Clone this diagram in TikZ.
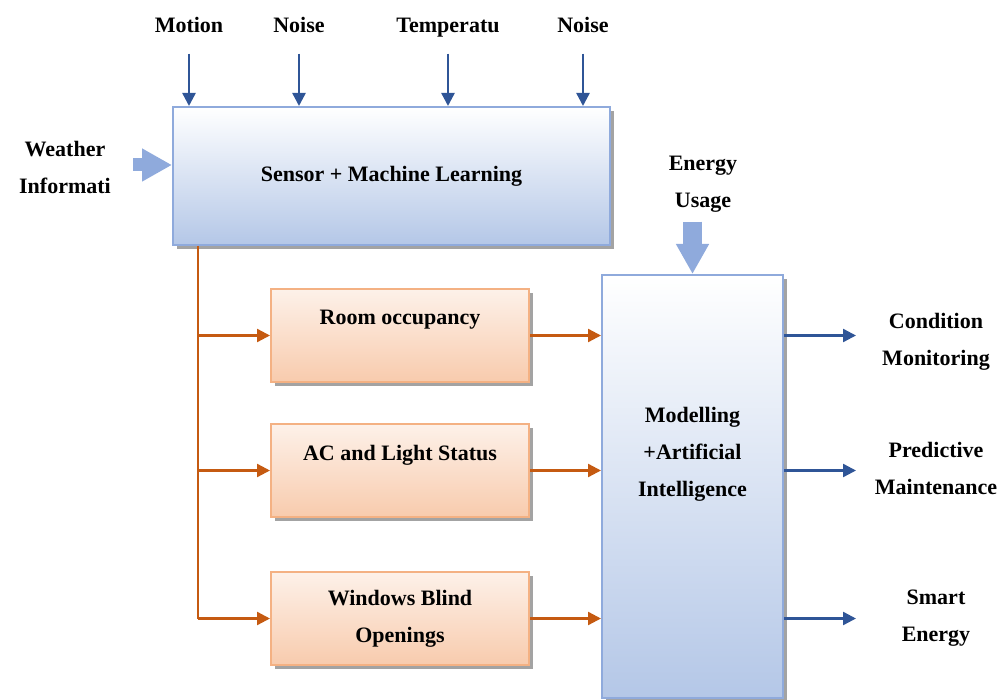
\documentclass[tikz,border=0pt]{standalone}
\usepackage{fontspec}
\setmainfont{Liberation Serif}
\usepackage{xcolor}
\usepackage{tikz}
\usetikzlibrary{arrows.meta, shadows}

\definecolor{boxblue}{HTML}{B4C7E7}
\definecolor{edgeblue}{HTML}{8FAADC}
\definecolor{darkblue}{HTML}{2F5597}
\definecolor{boxorange}{HTML}{F8CBAD}
\definecolor{paleorange}{HTML}{FDF1E9}
\definecolor{edgeorange}{HTML}{F4B183}
\definecolor{rust}{HTML}{C55A11}

\begin{document}
\begin{tikzpicture}[
    x=1pt, y=-1pt,
    font=\fontsize{22}{37}\selectfont\bfseries,
    bluebox/.style={
        draw=edgeblue,
        line width=2pt,
        top color=white,
        bottom color=boxblue,
        align=center,
        drop shadow={shadow xshift=4pt, shadow yshift=-4pt, fill=black!45, opacity=0.8}
    },
    orangebox/.style={
        draw=edgeorange,
        line width=2pt,
        top color=paleorange,
        bottom color=boxorange,
        align=center,
        minimum width=258pt,
        minimum height=93pt,
        drop shadow={shadow xshift=4pt, shadow yshift=-4pt, fill=black!45, opacity=0.8}
    },
    lbl/.style={align=center},
    toplbl/.style={text height=15pt, text depth=5pt},
    feed/.style={draw=darkblue, line width=2.4pt, -{Triangle[length=13pt,width=13pt]}},
    branch/.style={draw=rust, line width=2.3pt, -{Triangle[length=13pt,width=13pt]}},
    fat/.style={draw=edgeblue, -{Triangle[length=30pt,width=31pt]}}
]
\useasboundingbox (0,0) rectangle (1008,700);

% ==================== Boxes ====================
\node[bluebox, minimum width=437pt, minimum height=138pt] (sensor) at (391.5,176)
{Sensor + Machine Learning};

\node[orangebox, text depth=36pt] (occupancy) at (400,335.5) {Room occupancy};
\node[orangebox, text depth=36pt] (status)    at (400,470.5) {AC and Light Status};
\node[orangebox]                  (blinds)    at (400,618.5) {Windows Blind\\Openings};

\node[bluebox, minimum width=181pt, minimum height=423pt, text depth=69pt] (model) at (692.5,486.5)
{Modelling\\+Artificial\\Intelligence};

% ==================== Labels ====================
\node[toplbl] (motion) at (189,28) {Motion};
\node[toplbl] (noiseA) at (299,28) {Noise};
\node[toplbl] (temp)   at (448,28) {Temperatu};
\node[toplbl] (noiseB) at (583,28) {Noise};

\node[lbl] (weather) at (65,167)  {Weather\\Informati};
\node[lbl] (energy)  at (703,184) {Energy\\Usage};

\node[lbl] (condition)  at (936,342) {Condition\\Monitoring};
\node[lbl] (predictive) at (936,468) {Predictive\\Maintenance};
\node[lbl] (smart)      at (936,618) {Smart\\Energy};

% ==================== Connectors ====================
\foreach \src in {motion, noiseA, temp, noiseB}
    \draw[feed, shorten <=12pt] (\src.south) -- (\src.south |- sensor.north);

\draw[fat, line width=13pt, shorten <=19pt] ([yshift=2pt]weather.east) -- ([yshift=2pt]weather.east -| sensor.west);
\draw[fat, line width=19pt, shorten <=6pt] (energy.south -| model.north) -- (model.north);

\coordinate (trunk) at ([xshift=26pt]sensor.south west);
\draw[rust, line width=2.3pt] (trunk) -- (trunk |- blinds.west);

\foreach \dst in {occupancy, status, blinds} {
    \draw[branch] (trunk |- \dst.west) -- (\dst.west);
    \draw[branch] (\dst.east) -- (\dst.east -| model.west);
}

\coordinate (outend) at (856,0);
\foreach \dst in {occupancy, status, blinds}
    \draw[feed] (model.east |- \dst.east) -- (outend |- \dst.east);

\end{tikzpicture}
\end{document}
